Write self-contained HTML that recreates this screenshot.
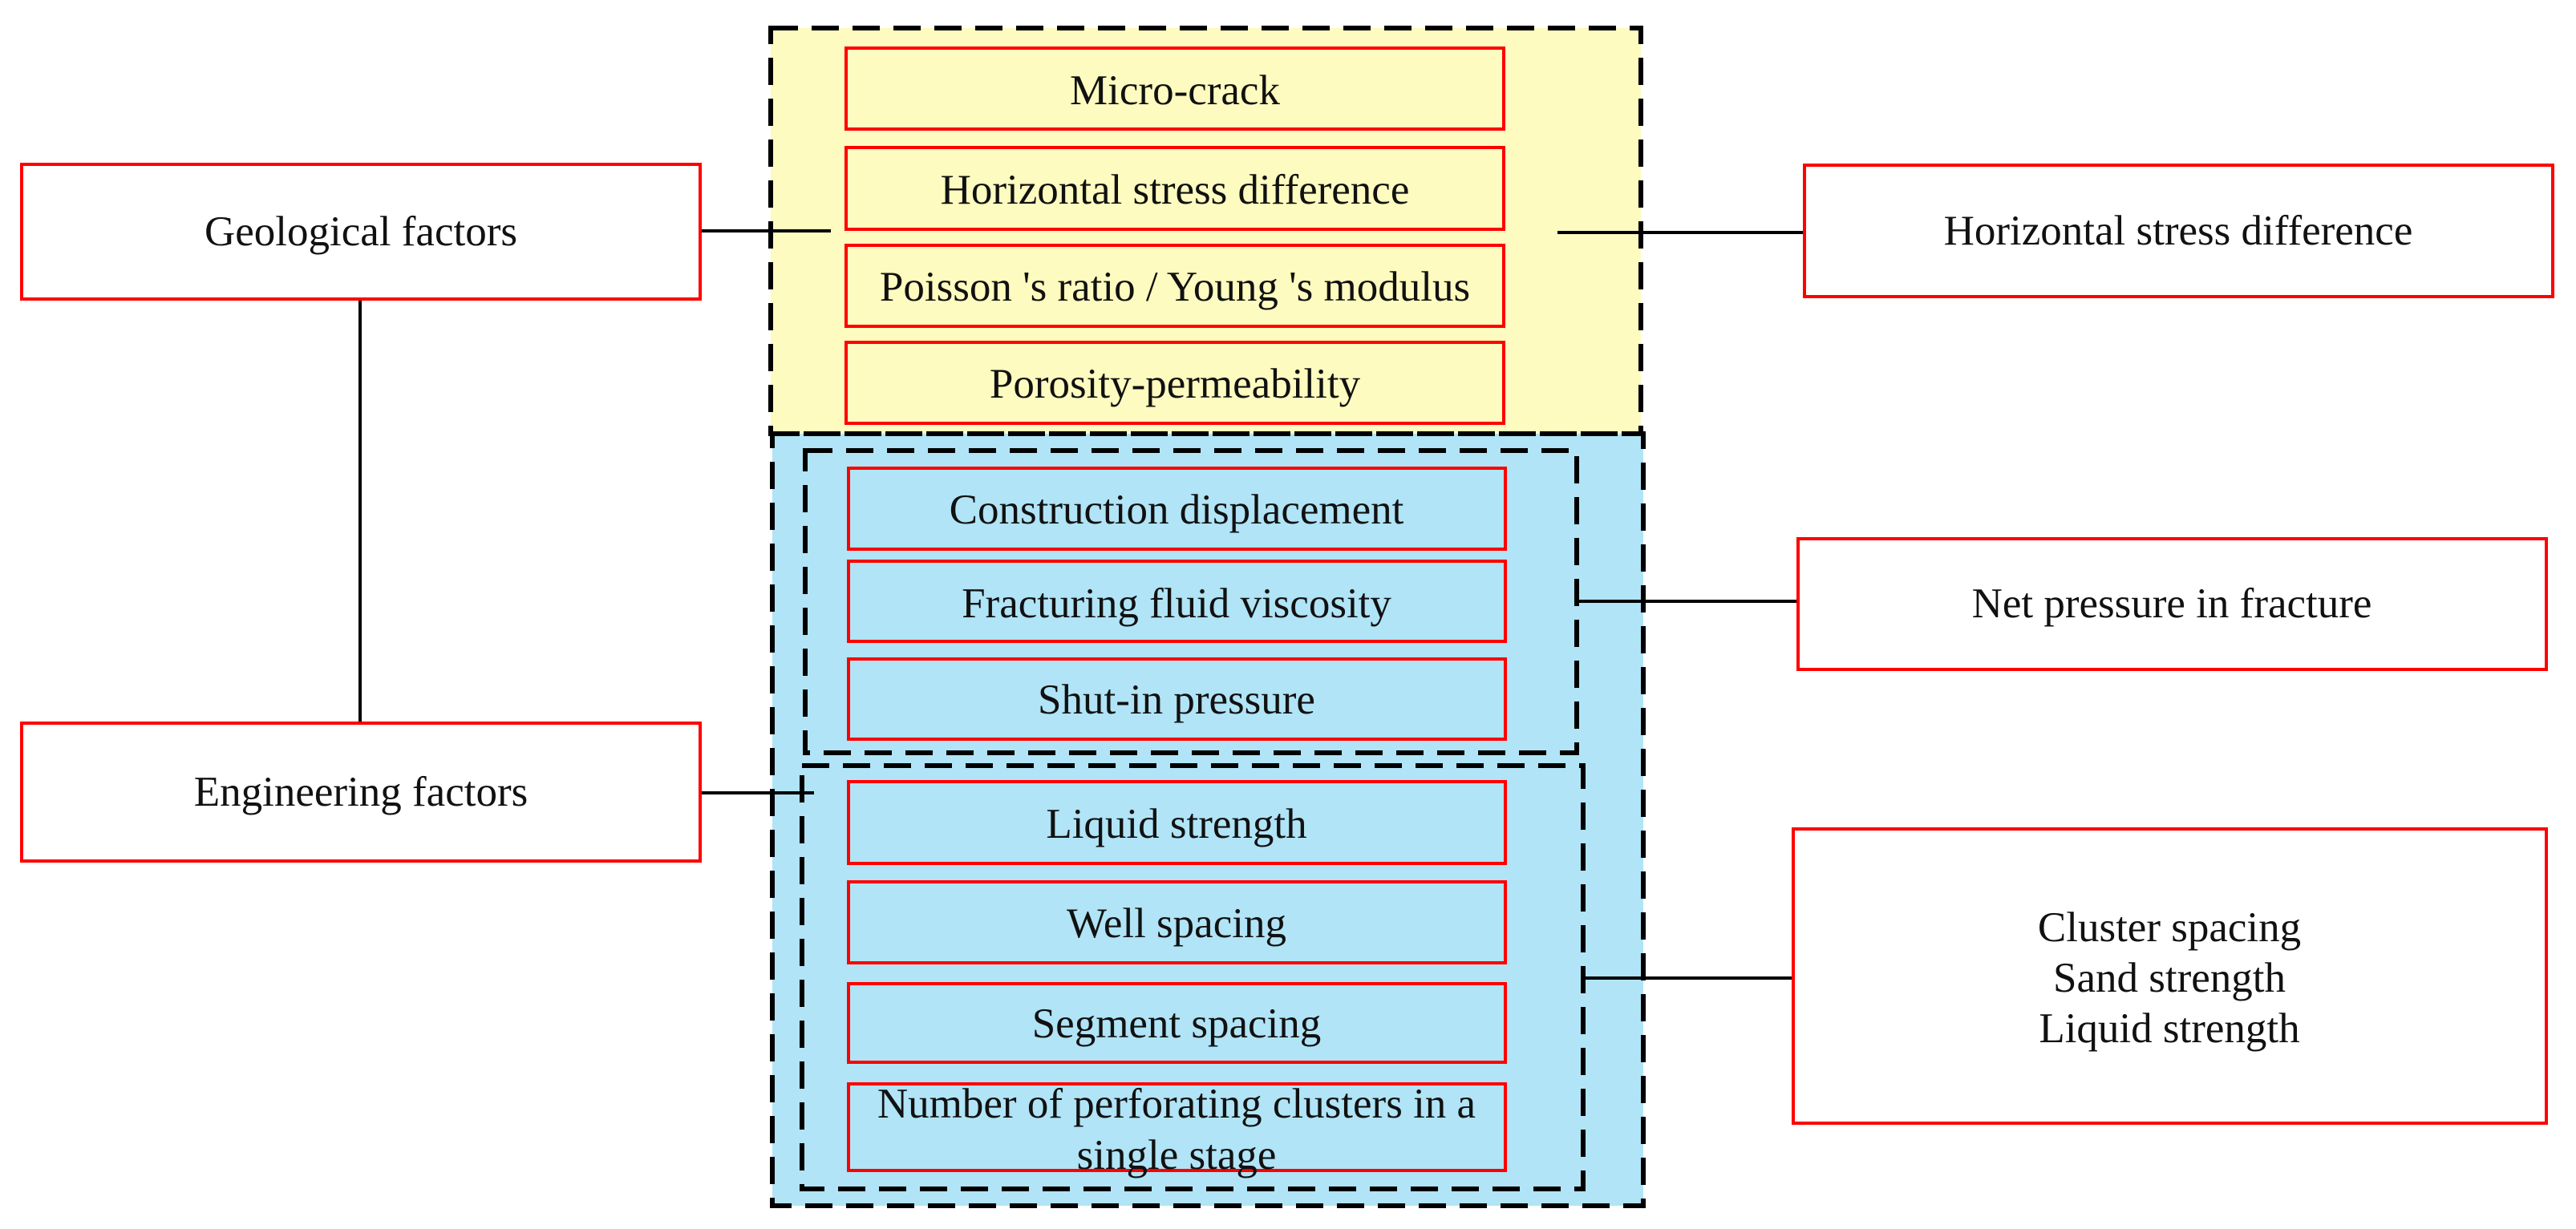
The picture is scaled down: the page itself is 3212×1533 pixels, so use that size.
<!DOCTYPE html>
<html><head><meta charset="utf-8"><style>
html,body{margin:0;padding:0;background:#fff;}
svg{display:block;}
text{font-family:"Liberation Serif",serif;font-size:53px;fill:#111;text-anchor:middle;dominant-baseline:central;}
</style></head><body>
<svg width="3212" height="1533" viewBox="0 0 3212 1533" xmlns="http://www.w3.org/2000/svg">
<rect x="961" y="35" width="1085" height="506" fill="#fdfbbf"/>
<rect x="963" y="541" width="1086" height="963" fill="#b0e4f6"/>
<g fill="none" stroke="#000" stroke-width="6" stroke-dasharray="34 17">
<rect x="961" y="35" width="1085" height="506"/>
<rect x="963" y="541" width="1086" height="963"/>
<rect x="1004" y="562" width="962" height="377"/>
<rect x="1000" y="955" width="974" height="528"/>
</g>
<g stroke="#000" stroke-width="4">
<line x1="449" y1="373" x2="449" y2="902"/>
<line x1="873" y1="288" x2="1036" y2="288"/>
<line x1="873" y1="989" x2="1015" y2="989"/>
<line x1="1942" y1="290" x2="2250" y2="290"/>
<line x1="1966" y1="750" x2="2242" y2="750"/>
<line x1="1974" y1="1220" x2="2236" y2="1220"/>
</g>
<g fill="#fff" stroke="#f00" stroke-width="4">
<rect x="27" y="205" width="846" height="168"/>
<rect x="27" y="902" width="846" height="172"/>
<rect x="2250" y="206" width="933" height="164"/>
<rect x="2242" y="672" width="933" height="163"/>
<rect x="2236" y="1034" width="939" height="367"/>
</g>
<g fill="none" stroke="#f00" stroke-width="4">
<rect x="1055" y="60" width="820" height="101"/>
<rect x="1055" y="184" width="820" height="102"/>
<rect x="1055" y="306" width="820" height="101"/>
<rect x="1055" y="427" width="820" height="101"/>
<rect x="1058" y="584" width="819" height="101"/>
<rect x="1058" y="700" width="819" height="100"/>
<rect x="1058" y="822" width="819" height="100"/>
<rect x="1058" y="975" width="819" height="102"/>
<rect x="1058" y="1100" width="819" height="101"/>
<rect x="1058" y="1227" width="819" height="98"/>
<rect x="1058" y="1352" width="819" height="108"/>
</g>
<text x="450" y="289">Geological factors</text>
<text x="450" y="988">Engineering factors</text>
<text x="2716" y="288">Horizontal stress difference</text>
<text x="2708" y="753">Net pressure in fracture</text>
<text x="2705" y="1157">Cluster spacing</text>
<text x="2705" y="1220">Sand strength</text>
<text x="2705" y="1283">Liquid strength</text>
<text x="1465" y="113">Micro-crack</text>
<text x="1465" y="237">Horizontal stress difference</text>
<text x="1465" y="358">Poisson 's ratio / Young 's modulus</text>
<text x="1465" y="479">Porosity-permeability</text>
<text x="1467" y="636">Construction displacement</text>
<text x="1467" y="753">Fracturing fluid viscosity</text>
<text x="1467" y="873">Shut-in pressure</text>
<text x="1467" y="1028">Liquid strength</text>
<text x="1467" y="1152">Well spacing</text>
<text x="1467" y="1277">Segment spacing</text>
<text x="1467" y="1377">Number of perforating clusters in a</text>
<text x="1467" y="1441">single stage</text>
</svg>
</body></html>
